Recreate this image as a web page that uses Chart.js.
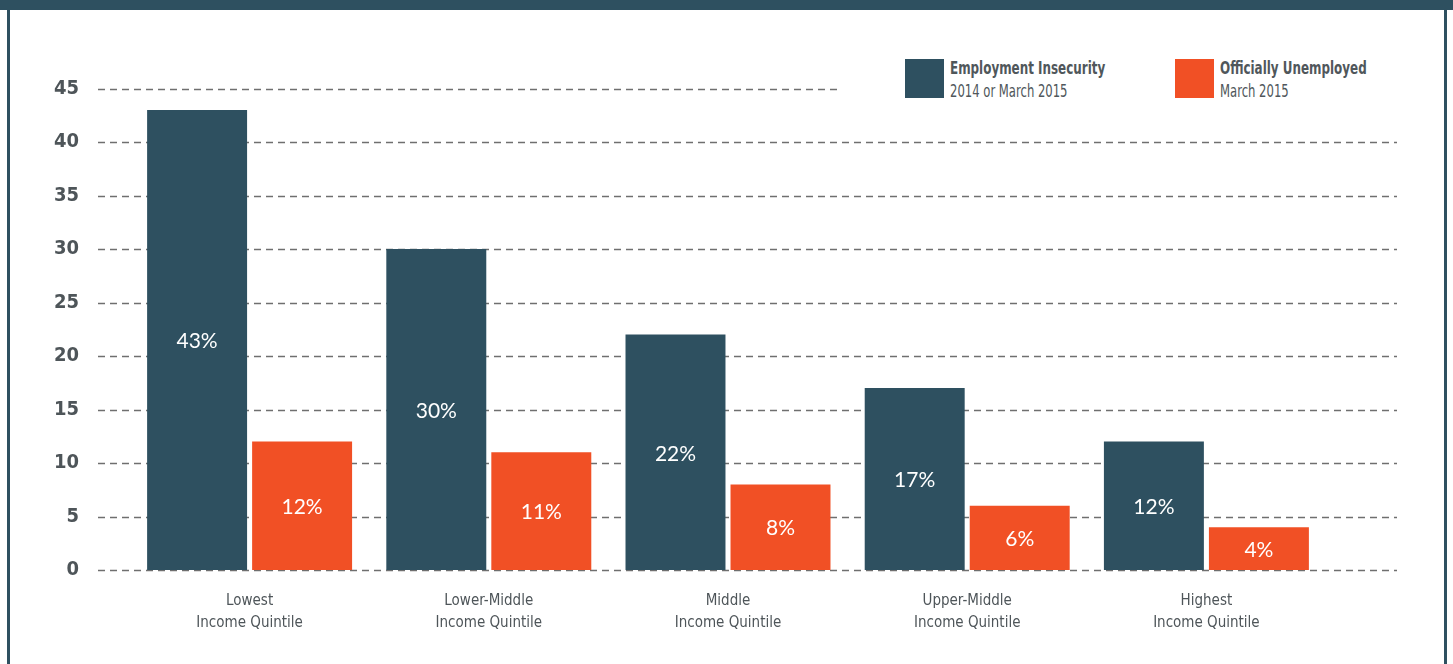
<!DOCTYPE html>
<html>
<head>
<meta charset="utf-8">
<script src="https://cdn.jsdelivr.net/npm/chart.js@4/dist/chart.umd.min.js"></script>
<style>
  html, body { margin: 0; padding: 0; background: #ffffff; }
  #wrap { position: relative; width: 1453px; height: 664px; overflow: hidden; background: #fff; }
  #c { position: absolute; left: 0; top: 0; }
  .band { position: absolute; left: 0; top: 0; width: 1453px; height: 10px; background: #2e5060; }
  .lb { position: absolute; left: 7px; top: 0; width: 3px; height: 664px; background: #2e5060; }
  .rb { position: absolute; left: 1444px; top: 0; width: 3px; height: 664px; background: #2e5060; }
  #legend { position: absolute; left: 840px; top: 52px; width: 560px; height: 56px; background: #fff;
            font-family: 'Liberation Sans Narrow', 'DejaVu Sans Condensed', sans-serif; color: #50575b; }
  .item { position: absolute; top: 7px; height: 39px; }
  .sw { position: absolute; left: 0; top: 0; width: 39px; height: 39px; }
  .t1 { position: absolute; left: 45px; top: 0px; white-space: nowrap; font-weight: bold; font-size: 17px; line-height: 19px;
        transform: scaleX(0.78); transform-origin: left center; }
  .t2 { position: absolute; left: 45px; top: 23px; white-space: nowrap; font-size: 17px; line-height: 19px;
        transform: scaleX(0.76); transform-origin: left center; }
</style>
</head>
<body>
<div id="wrap">
  <canvas id="c" width="1453" height="664"></canvas>
  <div class="band"></div>
  <div class="lb"></div>
  <div class="rb"></div>
  <div id="legend"></div>
</div>
<script>
const categories = [
  ["Lowest", "Income Quintile"],
  ["Lower-Middle", "Income Quintile"],
  ["Middle", "Income Quintile"],
  ["Upper-Middle", "Income Quintile"],
  ["Highest", "Income Quintile"]
];
const employmentInsecurity = [43, 30, 22, 17, 12];
const officiallyUnemployed = [12, 11, 8, 6, 4];
const seriesNames = ["Employment Insecurity", "Officially Unemployed"];
const seriesSubtitles = ["2014 or March 2015", "March 2015"];
const yTicks = [0, 5, 10, 15, 20, 25, 30, 35, 40, 45];

const DARK = '#2e5060';
const ORANGE = '#f15025';
const TEXT = '#4e5559';
const NARROW = "'Liberation Sans Narrow', 'DejaVu Sans Condensed', sans-serif";

// HTML legend
const legendEl = document.getElementById('legend');
[[DARK, 65], [ORANGE, 335]].forEach((cfg, i) => {
  const it = document.createElement('div');
  it.className = 'item';
  it.style.left = cfg[1] + 'px';
  it.innerHTML = '<div class="sw" style="background:' + cfg[0] + '"></div>' +
    '<div class="t1">' + seriesNames[i] + '</div>' +
    '<div class="t2">' + seriesSubtitles[i] + '</div>';
  legendEl.appendChild(it);
});

const gridPlugin = {
  id: 'extGrid',
  beforeDatasetsDraw(chart) {
    const ctx = chart.ctx;
    const y = chart.scales.y;
    ctx.save();
    ctx.strokeStyle = '#6f6f6f';
    ctx.lineWidth = 1.4;
    ctx.setLineDash([7, 5]);
    yTicks.forEach(v => {
      const py = Math.round(y.getPixelForValue(v)) + 0.5;
      ctx.beginPath();
      ctx.moveTo(98, py);
      ctx.lineTo(1397, py);
      ctx.stroke();
    });
    ctx.restore();
  }
};

const labelPlugin = {
  id: 'barLabels',
  afterDatasetsDraw(chart) {
    const ctx = chart.ctx;
    ctx.save();
    ctx.fillStyle = '#ffffff';
    ctx.font = '21px Lato, "Open Sans", sans-serif';
    ctx.textAlign = 'center';
    ctx.textBaseline = 'middle';
    chart.data.datasets.forEach((ds, di) => {
      const meta = chart.getDatasetMeta(di);
      meta.data.forEach((bar, i) => {
        const cy = (bar.y + bar.base) / 2 + 1.5;
        ctx.fillText(ds.data[i] + '%', bar.x, cy);
      });
    });
    ctx.restore();
  }
};

new Chart(document.getElementById('c'), {
  type: 'bar',
  data: {
    labels: categories,
    datasets: [
      { label: seriesNames[0], data: employmentInsecurity, backgroundColor: DARK,
        categoryPercentage: 0.878, barPercentage: 0.952 },
      { label: seriesNames[1], data: officiallyUnemployed, backgroundColor: ORANGE,
        categoryPercentage: 0.878, barPercentage: 0.952 }
    ]
  },
  options: {
    responsive: false,
    devicePixelRatio: 1,
    animation: false,
    layout: { padding: { left: 0, right: 127, top: 88.5, bottom: 0 } },
    plugins: { legend: { display: false }, tooltip: { enabled: false } },
    scales: {
      x: {
        grid: { display: false, drawTicks: false },
        border: { display: false },
        ticks: { color: TEXT, font: { family: NARROW, size: 15, lineHeight: 1.45 }, padding: 20.5, maxRotation: 0, autoSkip: false },
        afterFit(scale) { scale.height = 94; }
      },
      y: {
        min: 0, max: 45,
        grid: { display: false, drawTicks: false },
        border: { display: false },
        ticks: { stepSize: 5, color: TEXT, font: { family: NARROW, size: 20, weight: 'bold' }, padding: 51 },
        afterFit(scale) { scale.width = 130; }
      }
    }
  },
  plugins: [gridPlugin, labelPlugin]
});
</script>
</body>
</html>
